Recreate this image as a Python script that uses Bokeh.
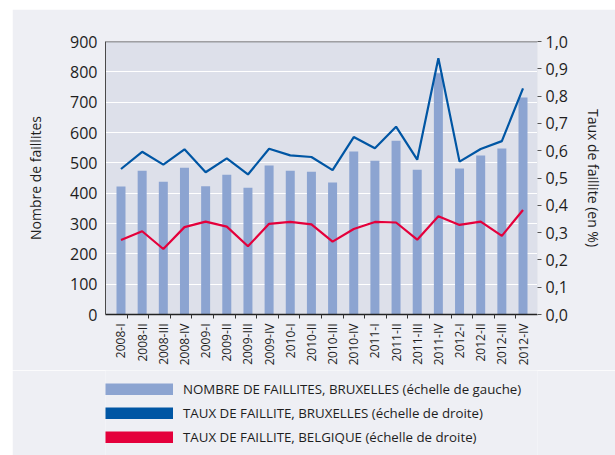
import math
from bokeh.plotting import figure
from bokeh.models import (Range1d, LinearAxis, FixedTicker, CustomJSTickFormatter,
                          Span, Legend, LegendItem, ColumnDataSource, Spacer)
from bokeh.layouts import row, column
from bokeh.embed import file_html
from bokeh.resources import INLINE

quarters = ["2008-I", "2008-II", "2008-III", "2008-IV",
            "2009-I", "2009-II", "2009-III", "2009-IV",
            "2010-I", "2010-II", "2010-III", "2010-IV",
            "2011-I", "2011-II", "2011-III", "2011-IV",
            "2012-I", "2012-II", "2012-III", "2012-IV"]
faillites_bxl = [422, 474, 438, 484, 423, 461, 418, 491, 474, 471,
                 435, 537, 507, 573, 477, 795, 481, 524, 547, 715]
taux_bxl = [0.533, 0.596, 0.549, 0.605, 0.521, 0.572, 0.513, 0.607, 0.583, 0.577,
            0.529, 0.650, 0.609, 0.688, 0.567, 0.939, 0.560, 0.606, 0.635, 0.828]
taux_bel = [0.273, 0.305, 0.240, 0.320, 0.340, 0.322, 0.250, 0.332, 0.339, 0.330,
            0.267, 0.313, 0.339, 0.337, 0.274, 0.360, 0.328, 0.340, 0.288, 0.383]
left_ticks = [0, 100, 200, 300, 400, 500, 600, 700, 800, 900]
right_ticks = [0.0, 0.1, 0.2, 0.3, 0.4, 0.5, 0.6, 0.7, 0.8, 0.9, 1.0]

legend_labels = ["NOMBRE DE FAILLITES, BRUXELLES (échelle de gauche)",
                 "TAUX DE FAILLITE, BRUXELLES (échelle de droite)",
                 "TAUX DE FAILLITE, BELGIQUE (échelle de droite)"]

BAR = "#8ca4d1"
BLUE = "#0056a4"
RED = "#e4003b"
FONT = "Open Sans"
TXT = "#1e1e1e"
BG = "#eeeff4"

idx = list(range(len(quarters)))
src = ColumnDataSource(dict(x=idx, n=faillites_bxl, tb=taux_bxl, tg=taux_bel))

p = figure(width=603, height=361, output_backend="svg", toolbar_location=None,
           x_range=Range1d(-0.7325, 19.685), y_range=Range1d(0, 900),
           min_border_left=93, min_border_right=78, min_border_top=32, min_border_bottom=56,
           background_fill_color="#dde0ea", border_fill_color=BG,
           outline_line_color=None)
p.extra_y_ranges = {"right": Range1d(0, 1.0)}

p.vbar(x="x", top="n", width=0.425, source=src, fill_color=BAR, line_color=None)
p.line(x="x", y="tb", source=src, y_range_name="right", line_color=BLUE, line_width=2.2)
p.line(x="x", y="tg", source=src, y_range_name="right", line_color=RED, line_width=2.2)

# x axis
xa = p.xaxis[0]
minor = [-0.7325 + k * (21.6 / 21.16) for k in range(1, 20)]
xa.ticker = FixedTicker(ticks=idx, minor_ticks=minor)
xa.major_label_overrides = {i: q for i, q in enumerate(quarters)}
xa.major_label_orientation = math.pi / 2
xa.major_tick_line_color = None
xa.major_tick_out = 0
xa.major_tick_in = 0
xa.minor_tick_in = 0
xa.minor_tick_out = 4
xa.minor_tick_line_color = "#333333"
xa.axis_line_color = "#222222"
xa.axis_line_width = 1.5
xa.major_label_standoff = 5
xa.major_label_text_font = FONT
xa.major_label_text_font_size = "12px"
xa.major_label_text_color = TXT

# left axis
ya = p.yaxis[0]
ya.ticker = FixedTicker(ticks=left_ticks)
ya.major_tick_line_color = None
ya.major_tick_out = 0
ya.major_tick_in = 0
ya.minor_tick_line_color = None
ya.axis_line_color = "#4a4a4a"
ya.axis_line_width = 1
ya.major_label_standoff = 8
ya.major_label_text_font = FONT
ya.major_label_text_font_size = "16px"
ya.major_label_text_color = TXT
ya.axis_label = "Nombre de faillites"
ya.axis_label_text_font = FONT
ya.axis_label_text_font_style = "normal"
ya.axis_label_text_font_size = "14px"
ya.axis_label_text_color = TXT
ya.axis_label_standoff = 22

# right axis
ra = LinearAxis(y_range_name="right", ticker=FixedTicker(ticks=right_ticks),
                formatter=CustomJSTickFormatter(code="return tick.toFixed(1).replace('.', ',');"))
ra.axis_line_color = "#e6e8ee"
ra.axis_line_width = 1
ra.major_tick_in = 0
ra.major_tick_out = 4
ra.major_tick_line_color = "#555555"
ra.minor_tick_line_color = None
ra.major_label_standoff = 4
ra.major_label_text_font = FONT
ra.major_label_text_font_size = "16px"
ra.major_label_text_color = TXT
ra.axis_label = "Taux de faillite (en %)"
ra.axis_label_text_font = FONT
ra.axis_label_text_font_style = "normal"
ra.axis_label_text_font_size = "14px"
ra.axis_label_text_color = TXT
ra.axis_label_standoff = 13
p.add_layout(ra, "right")

p.xgrid.grid_line_color = None
p.ygrid.ticker = FixedTicker(ticks=left_ticks)
p.ygrid.grid_line_color = "white"
p.ygrid.grid_line_width = 1

p.add_layout(Span(location=900, dimension="width", line_color="#555555", line_width=1.5))

# legend panel: a second small figure holding only the legend.
# Its proxy renderers draw the same series far outside its visible range,
# so only their legend swatches (thick bands) are seen.
lf = figure(width=603, height=85, output_backend="svg", toolbar_location=None,
            x_range=Range1d(0, 1), y_range=Range1d(50, 51),
            min_border_left=93, min_border_right=78, min_border_top=0, min_border_bottom=0,
            background_fill_color=BG, border_fill_color=BG, outline_line_color=None)
lf.axis.visible = False
lf.grid.visible = False
r1 = lf.line(x="x", y="tb", source=src, line_color=BAR, line_width=12)
r2 = lf.line(x="x", y="tb", source=src, line_color=BLUE, line_width=12)
r3 = lf.line(x="x", y="tg", source=src, line_color=RED, line_width=12)
legend = Legend(items=[LegendItem(label=legend_labels[0], renderers=[r1]),
                       LegendItem(label=legend_labels[1], renderers=[r2]),
                       LegendItem(label=legend_labels[2], renderers=[r3])],
                location=(0, 9), orientation="vertical",
                glyph_width=68, glyph_height=12, label_height=12, label_standoff=10,
                spacing=6, padding=0, margin=0,
                border_line_color=None, background_fill_alpha=0,
                label_text_font=FONT, label_text_font_size="13.3px", label_text_color=TXT,
                label_text_baseline="middle")
lf.add_layout(legend, "center")

layout = row(Spacer(width=12), column(Spacer(height=9), p, lf, spacing=0), spacing=0)
open("out.html", "w").write(file_html(layout, INLINE))
